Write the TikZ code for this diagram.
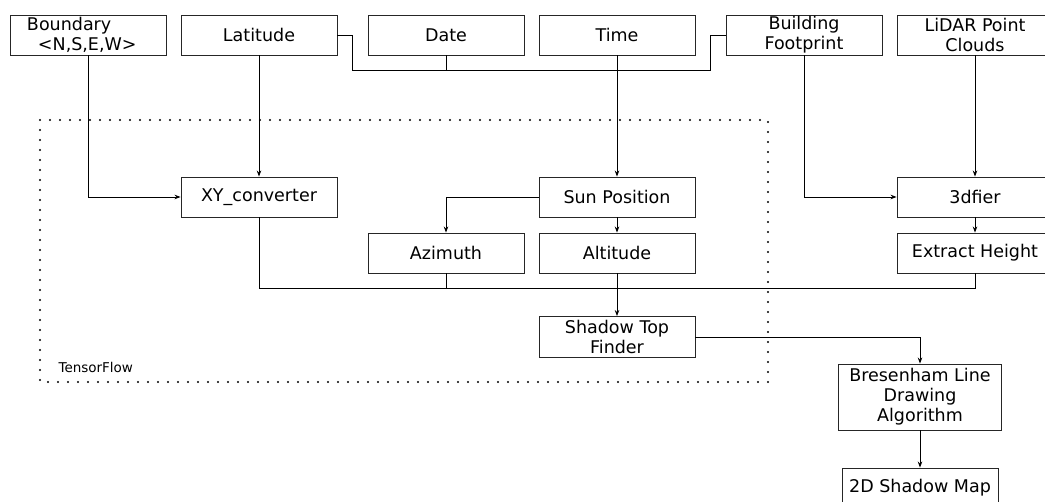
\documentclass[tikz,border=0pt]{standalone}
\usepackage{fontspec}
\setmainfont{DejaVu Sans}
\usetikzlibrary{arrows.meta}
\begin{document}
\begin{tikzpicture}[x=1pt,y=-1pt,
  box/.style={draw=black!85, line width=0.9pt, minimum width=156pt, minimum height=40pt,
    inner sep=0pt, align=center, font=\fontsize{17.5}{20}\selectfont},
  conn/.style={line width=0.8pt, black},
  arr/.style={conn, -{Stealth[length=6pt,width=4.5pt]}}]
\clip (0,0) rectangle (1045,502);
\fill[white] (0,0) rectangle (1045,502);
% dotted TensorFlow region
\draw[line width=2.4pt, dash pattern=on 0pt off 10pt, line cap=round] (40,120) rectangle (768,382);
\node[anchor=west, font=\fontsize{13.5}{16}\selectfont] (tf) at (55,367) {TensorFlow};
% top row
\node[box, text width=122pt, inner xsep=17pt, align=left] (bnd) at (88,35) {Boundary\\\hspace*{11pt}<N,S,E,W>};
\node[box] (lat) at (259,35) {Latitude};
\node[box] (date) at (446,35) {Date};
\node[box] (time) at (617,35) {Time};
\node[box] (bfp) at (804,35) {Building\\Footprint};
\node[box] (lidar) at (975,35) {LiDAR Point\\Clouds};
% middle
\node[box] (xy) at (259,197) {XY\_converter};
\node[box] (sun) at (617,197) {Sun Position};
\node[box] (dfier) at (975,197) {3dfier};
\node[box] (azi) at (446,253) {Azimuth};
\node[box] (alt) at (617,253) {Altitude};
\node[box] (eh) at (975,253) {Extract Height};
\node[box, minimum height=41pt] (stf) at (617,337) {Shadow Top\\Finder};
\node[box, minimum width=163pt, minimum height=66pt] (bres) at (920,397) {Bresenham Line\\Drawing\\Algorithm};
\node[box] (map) at (920,488) {2D Shadow Map};
% coordinates
\coordinate (j1) at (352,70);
\coordinate (bus) at (617,70);
\coordinate (j2) at (710,70);
\coordinate (bus2) at (617,288);
% connectors
\draw[arr] (bnd.south) |- (xy.west);
\draw[arr] (lat.south) -- (xy.north);
\draw[conn] (lat.east) -| (j1) -- (bus);
\draw[conn] (date.south) |- (bus);
\draw[conn] (bfp.west) -| (j2) -- (bus);
\draw[arr] (time.south) -- (sun.north);
\draw[arr] (bfp.south) |- (dfier.west);
\draw[arr] (lidar.south) -- (dfier.north);
\draw[arr] (sun.west) -| (azi.north);
\draw[arr] (sun.south) -- (alt.north);
\draw[arr] (dfier.south) -- (eh.north);
\draw[conn] (xy.south) |- (bus2);
\draw[conn] (azi.south) |- (bus2);
\draw[conn] (eh.south) |- (bus2);
\draw[arr] (alt.south) -- (stf.north);
\draw[arr] (stf.east) -| (bres.north);
\draw[arr] (bres.south) -- (map.north);
\end{tikzpicture}
\end{document}
